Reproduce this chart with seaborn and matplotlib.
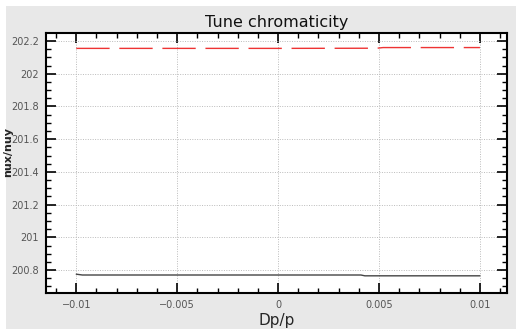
import numpy as np
import matplotlib
matplotlib.use("Agg")
import matplotlib.pyplot as plt
import seaborn as sns
import pandas as pd
from matplotlib.ticker import MultipleLocator
from matplotlib.patches import Rectangle

# Data
dpp_x = [-0.01, -0.009, -0.005, 0.0, 0.0049, 0.0052, 0.01]
nux = [202.155, 202.155, 202.155, 202.155, 202.156, 202.16, 202.16]
dpp_y = [-0.01, -0.0097, -0.005, 0.0, 0.0041, 0.0043, 0.01]
nuy = [200.775, 200.77, 200.77, 200.77, 200.77, 200.765, 200.765]

df_x = pd.DataFrame({"Dp/p": dpp_x, "tune": nux})
df_y = pd.DataFrame({"Dp/p": dpp_y, "tune": nuy})

sns.set_style("ticks")
plt.rcParams['font.family'] = ['DejaVu Sans']

fig = plt.figure(figsize=(5.16, 3.29), dpi=100, facecolor="white")
fig.patches.append(Rectangle((6/516, 0), 1 - 6/516, 1 - 6/329, transform=fig.transFigure,
                             facecolor="#e8e8e8", edgecolor="none", zorder=-10))
ax = fig.add_axes([46/516, 1-293/329, (507-46)/516, (293-33)/329])
ax.set_facecolor("white")

sns.lineplot(data=df_x, x="Dp/p", y="tune", ax=ax, color="#ee3333",
             linewidth=1.0, estimator=None)
ax.lines[-1].set_dashes([24, 7])
sns.lineplot(data=df_y, x="Dp/p", y="tune", ax=ax, color="#444444",
             linewidth=1.0, estimator=None)

ax.set_xlim(-0.0115, 0.01134)
ax.set_ylim(200.66, 202.249)
ax.xaxis.set_minor_locator(MultipleLocator(0.001))
ax.yaxis.set_minor_locator(MultipleLocator(0.05))
ax.set_xticks([-0.01, -0.005, 0, 0.005, 0.01])
ax.set_xticklabels(["\u22120.01", "\u22120.005", "0", "0.005", "0.01"])
ax.set_yticks([200.8, 201.0, 201.2, 201.4, 201.6, 201.8, 202.0, 202.2])
ax.set_yticklabels(["200.8", "201", "201.2", "201.4", "201.6", "201.8", "202", "202.2"])

ax.tick_params(which="major", direction="in", length=7, width=1.2, top=True, right=True,
               labelsize=7, labelcolor="#555555", color="black", pad=5)
ax.tick_params(which="minor", direction="in", length=3.5, width=1.0, top=True, right=True,
               color="black")
for s in ax.spines.values():
    s.set_linewidth(1.5)
    s.set_color("black")

ax.grid(True, which="major", linestyle=(0, (1, 1.5)), color="#bbbbbb", linewidth=0.7)
ax.set_axisbelow(True)

ax.set_title("Tune chromaticity", fontsize=11.5, pad=4, color="#111111")
ax.set_xlabel("Dp/p", fontsize=11, labelpad=2)
ax.set_ylabel("nux/nuy", fontsize=8, fontweight="bold")
ax.yaxis.set_label_coords(-0.0705, 0.542)

fig.savefig("out.png", dpi=100, facecolor=fig.get_facecolor())
